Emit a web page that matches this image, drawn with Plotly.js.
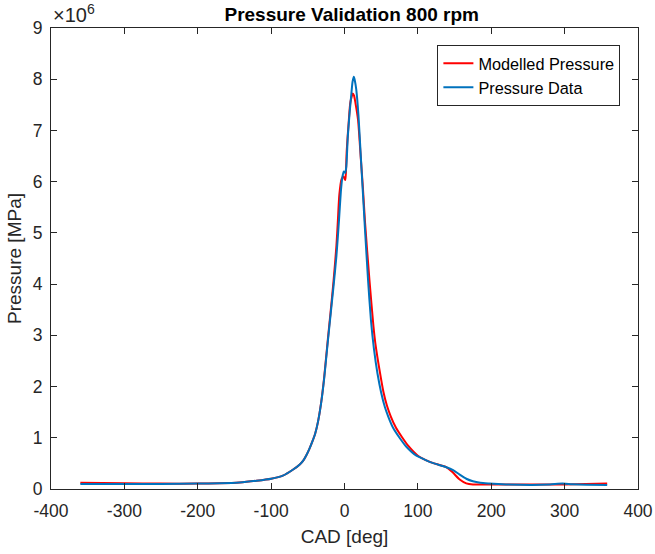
<!DOCTYPE html>
<html>
<head>
<meta charset="utf-8">
<script src="https://cdn.plot.ly/plotly-3.0.1.min.js"></script>
<style>html,body{margin:0;padding:0;background:#fff;}#chart{width:655px;height:554px;}</style>
</head>
<body>
<div id="chart"></div>
<script>
// Pressure values in units of 1e6 Pa (axis shows ×10^6)
const modelCAD = [-360,-300,-250,-200,-170,-143,-120,-100,-84,-70,-61,-56,-52,-48,-44,-40,-36,-32,-28,-25,-22.5,-19,-15,-11,-9,-7,-4,-1.4,1,2,3,5.9,8,11.3,13,15,18.5,22,25,28,34,39.5,42,48,53,58,63,70,78,87,100,110,120,138,147,157,166,175,200,256,300,358];
const modelP   = [0.12,0.11,0.105,0.105,0.11,0.125,0.16,0.2,0.26,0.38,0.48,0.56,0.66,0.78,0.92,1.08,1.32,1.67,2.14,2.58,2.95,3.45,4.05,4.75,5.25,5.75,6.05,6.1,6.03,6.2,6.6,7.2,7.55,7.72,7.68,7.53,7.2,6.5,5.9,5.2,4.08,3.17,2.85,2.3,1.9,1.62,1.42,1.2,1.02,0.84,0.65,0.57,0.51,0.43,0.33,0.185,0.11,0.088,0.088,0.09,0.09,0.107];
const dataCAD  = [-360,-300,-250,-200,-170,-143,-120,-100,-84,-70,-61,-56,-52,-48,-44,-40,-36,-32,-28,-25,-22.5,-19,-15,-11,-7.5,-5,-3,-1,1,2.5,4.5,7,9,11,12.7,14,16,19,22,25,28,32,36,40,45,50,55,60,66,75,84,98,110,120,138,148,157,166,175,185,197,220,256,280,297,310,330,358];
const dataP    = [0.10,0.10,0.10,0.105,0.11,0.125,0.16,0.2,0.26,0.38,0.48,0.56,0.66,0.78,0.92,1.08,1.32,1.66,2.12,2.55,2.91,3.4,3.95,4.55,5.25,5.8,6.08,6.2,6.17,6.3,6.88,7.35,7.66,7.95,8.05,7.98,7.8,7.3,6.55,5.8,5.05,4.1,3.3,2.75,2.25,1.88,1.6,1.4,1.2,1.0,0.83,0.65,0.57,0.51,0.43,0.37,0.28,0.2,0.15,0.12,0.107,0.09,0.08,0.09,0.105,0.095,0.085,0.08];
const seriesNames = ['Modelled Pressure','Pressure Data'];
const xTicks = [-400,-300,-200,-100,0,100,200,300,400];
const yTicks = [0,1,2,3,4,5,6,7,8,9];

const axisColor = '#262626';
const font = 'Liberation Sans, Arial, sans-serif';

const traces = [
  {x: modelCAD, y: modelP, name: seriesNames[0], mode: 'lines',
   line: {color: '#FF0000', width: 2, shape: 'spline', smoothing: 0.6}},
  {x: dataCAD, y: dataP, name: seriesNames[1], mode: 'lines',
   line: {color: '#0072BD', width: 2, shape: 'spline', smoothing: 0.6}}
];

const layout = {
  width: 655, height: 554,
  margin: {l: 51, r: 17, t: 28, b: 64.5},
  paper_bgcolor: '#fff', plot_bgcolor: '#fff',
  font: {family: font, color: axisColor, size: 17.5},
  title: {text: '<b>Pressure Validation 800 rpm</b>', font: {family: font, size: 19, color: '#000'},
          x: 0.537, xanchor: 'center', y: 0.975, yanchor: 'middle'},
  xaxis: {range: [-400, 400], tickvals: xTicks, ticktext: xTicks.map(String),
          ticks: 'inside', ticklen: 6, tickcolor: axisColor, tickwidth: 1,
          showline: true, linecolor: axisColor, linewidth: 1, mirror: 'ticks',
          showgrid: false, zeroline: false, tickfont: {size: 17.5, color: axisColor},
          ticklabelstandoff: 6,
          title: {text: 'CAD [deg]', font: {size: 19, color: axisColor}, standoff: 9}},
  yaxis: {range: [0, 9], tickvals: yTicks, ticktext: yTicks.map(String),
          ticks: 'inside', ticklen: 6, tickcolor: axisColor, tickwidth: 1,
          showline: true, linecolor: axisColor, linewidth: 1, mirror: 'ticks',
          showgrid: false, zeroline: false, tickfont: {size: 17.5, color: axisColor},
          ticklabelstandoff: 4,
          title: {text: 'Pressure [MPa]', font: {size: 19, color: axisColor}, standoff: 6}},
  legend: {x: 0.97, xanchor: 'right', y: 0.963, yanchor: 'top',
           bgcolor: '#fff', bordercolor: axisColor, borderwidth: 1,
           font: {size: 16.3, color: '#000'}, tracegroupgap: 0},
  showlegend: true,
  annotations: [{text: '×10<sup>6</sup>', xref: 'paper', yref: 'paper', x: 0, y: 1,
                 xanchor: 'left', yanchor: 'bottom', showarrow: false, yshift: 0,
                 font: {size: 20, color: axisColor}}]
};

Plotly.newPlot('chart', traces, layout, {displayModeBar: false, staticPlot: true});
</script>
</body>
</html>
